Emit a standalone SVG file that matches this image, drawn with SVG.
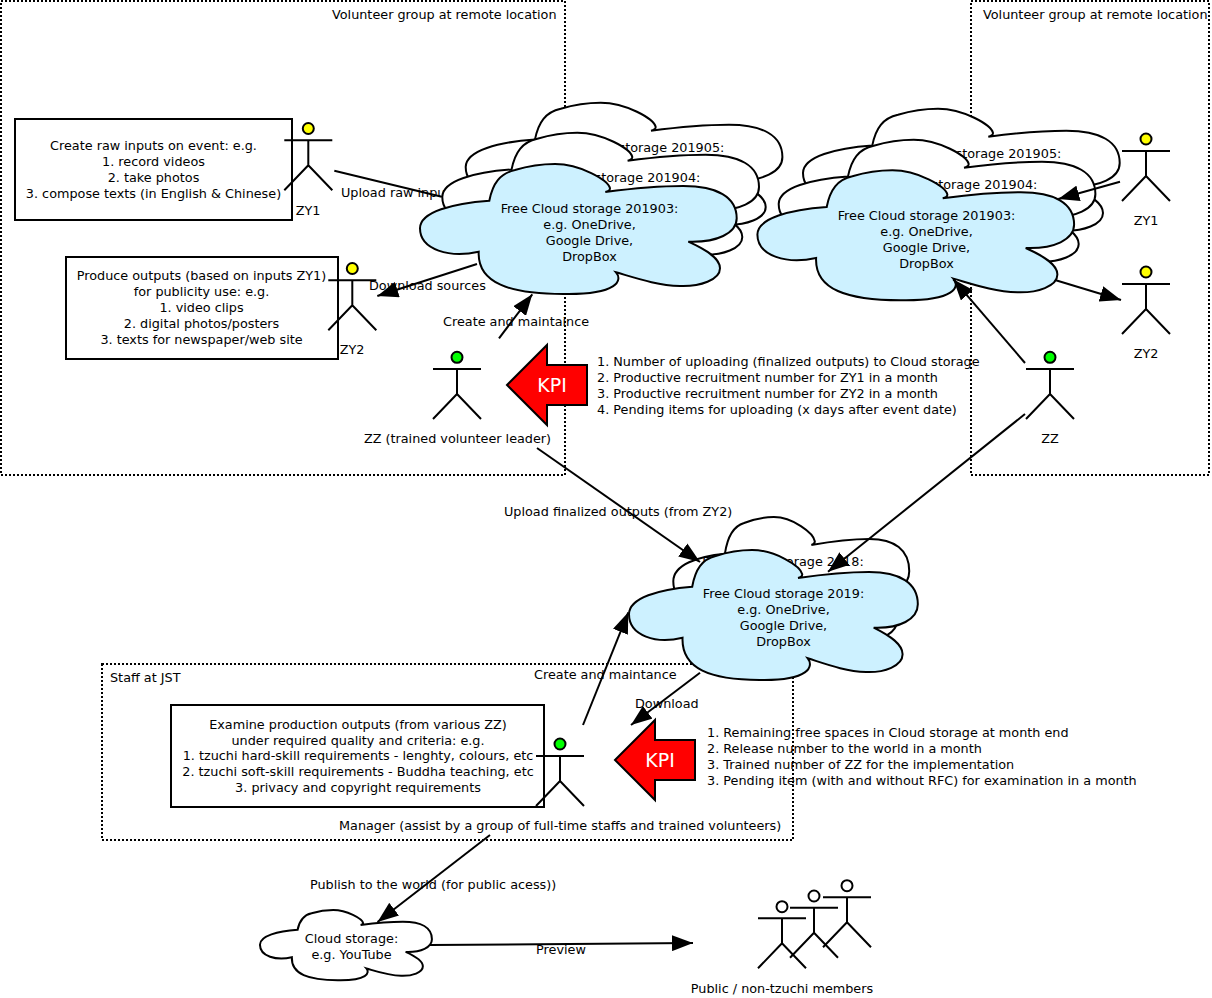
<svg xmlns="http://www.w3.org/2000/svg" width="1212" height="998" viewBox="0 0 1212 998">
<style>
text{font-family:"DejaVu Sans",sans-serif;font-size:12.8px;fill:#000}
.c{text-anchor:middle}
.kt{font-size:19px;fill:#fff;text-anchor:middle}
.frame{fill:none;stroke:#000;stroke-width:2;stroke-dasharray:2 2}
.box{fill:#fff;stroke:#000;stroke-width:2}
.cl{stroke:#000;stroke-width:2}
.w{fill:#fff}.b{fill:#cdf1ff}
.a{fill:none;stroke:#000;stroke-width:2}
.y{fill:#ff0;stroke:#000;stroke-width:2}.g{fill:#0f0;stroke:#000;stroke-width:2}.wh{fill:#fff;stroke:#000;stroke-width:2}
.k{fill:#f00;stroke:#000;stroke-width:2}
.l{fill:none;stroke:#000;stroke-width:2}
</style>
<defs>
<path id="cloud" vector-effect="non-scaling-stroke" d="M89.3 110.7C92.7 93.3 100 83.3 115 80C128.3 76 141.7 74 155 74C180 74 208.3 90 210 98.3Q210 101 205.3 102C233.3 98.3 260 96 283.3 96C316.7 96 336.7 106.7 336.7 128.3C336.7 143.3 316.7 152.7 288.3 151.7C306.7 160 320 168.3 320 178.3C320 190 300 196.7 280 196C256.7 195.3 236.7 188.3 216 182.3C222.7 190 218.3 205 163.3 204C110 204 77.3 193.3 78.7 161.7C50 168.3 20 160 20 138.3C20 121.7 53.3 113.3 89.3 110.7Z"/>
<marker id="arr" markerUnits="userSpaceOnUse" markerWidth="22" markerHeight="16" refX="21" refY="8" orient="auto"><path d="M0 0L21 8L0 16Z" fill="#000"/></marker>
<g id="act"><path class="a" d="M0 11V36M-24 11H24M-24 61L0 36L24 61"/></g>
</defs>
<rect width="1212" height="998" fill="#fff"/>
<g id="frames">
<rect class="frame" x="1" y="1" width="564" height="474"/>
<rect class="frame" x="971" y="1" width="238" height="474"/>
<rect class="frame" x="102" y="664" width="691" height="176"/>
</g>
<g id="labels">
<text x="332" y="19">Volunteer group at remote location</text>
<text x="983" y="19">Volunteer group at remote location</text>
<text x="110" y="682">Staff at JST</text>
<text x="341" y="197">Upload raw inputs</text>
</g>
<g id="cloud-201905-a"><use href="#cloud" class="cl w" transform="translate(445.7,28.7)"/><text class="c" x="635.5" y="152">Free Cloud storage 201905:</text></g>
<g id="cloud-201904-a"><use href="#cloud" class="cl w" transform="translate(422.3,58.7)"/><text class="c" x="611.5" y="182">Free Cloud storage 201904:</text></g>
<g id="cloud-201903-a"><use href="#cloud" class="cl b" transform="translate(400,90)"/><text class="c" x="589.5" y="213">Free Cloud storage 201903:</text><text class="c" x="589.5" y="229">e.g. OneDrive,</text><text class="c" x="589.5" y="245">Google Drive,</text><text class="c" x="589.5" y="261">DropBox</text></g>
<g id="cloud-201905-b"><use href="#cloud" class="cl w" transform="translate(783,34.7)"/><text class="c" x="972.5" y="158">Free Cloud storage 201905:</text></g>
<g id="cloud-201904-b"><use href="#cloud" class="cl w" transform="translate(758.7,65.7)"/><text class="c" x="948.5" y="189">Free Cloud storage 201904:</text></g>
<g id="cloud-201903-b"><use href="#cloud" class="cl b" transform="translate(737.4,96.3)"/><text class="c" x="926.5" y="220">Free Cloud storage 201903:</text><text class="c" x="926.5" y="236">e.g. OneDrive,</text><text class="c" x="926.5" y="252">Google Drive,</text><text class="c" x="926.5" y="268">DropBox</text></g>
<g id="cloud-2018"><use href="#cloud" class="cl w" transform="translate(658.4,443) scale(.745,1)"/><text class="c" x="783" y="566">Free Cloud storage 2018:</text></g>
<g id="cloud-2019"><use href="#cloud" class="cl b" transform="translate(610.76,476) scale(.912,1)"/><text class="c" x="783.5" y="598">Free Cloud storage 2019:</text><text class="c" x="783.5" y="614">e.g. OneDrive,</text><text class="c" x="783.5" y="630">Google Drive,</text><text class="c" x="783.5" y="646">DropBox</text></g>
<g id="cloud-youtube"><use href="#cloud" class="cl w" transform="translate(249.1,870) scale(.543,.54)"/><text class="c" x="351.5" y="943">Cloud storage:</text><text class="c" x="351.5" y="959">e.g. YouTube</text></g>
<g id="box-raw"><rect class="box" x="15" y="119" width="277" height="101"/><text class="c" x="153.5" y="150">Create raw inputs on event: e.g.</text><text class="c" x="153.5" y="166">1. record videos</text><text class="c" x="153.5" y="182">2. take photos</text><text class="c" x="153.5" y="198">3. compose texts (in English &amp; Chinese)</text></g>
<g id="box-produce"><rect class="box" x="66" y="257" width="272" height="102"/><text class="c" x="201.5" y="280">Produce outputs (based on inputs ZY1)</text><text class="c" x="201.5" y="295.5">for publicity use: e.g.</text><text class="c" x="201.5" y="311.5">1. video clips</text><text class="c" x="201.5" y="327.5">2. digital photos/posters</text><text class="c" x="201.5" y="343.5">3. texts for newspaper/web site</text></g>
<g id="box-examine"><rect class="box" x="171" y="705" width="373" height="102"/><text class="c" x="358" y="728.5">Examine production outputs (from various ZZ)</text><text class="c" x="358" y="744.5">under required quality and criteria: e.g.</text><text class="c" x="358" y="760">1. tzuchi hard-skill requirements - lenghty, colours, etc</text><text class="c" x="358" y="775.5">2. tzuchi soft-skill requirements - Buddha teaching, etc</text><text class="c" x="358" y="791.5">3. privacy and copyright requirements</text></g>
<g id="zy1-a"><circle class="y" cx="308.3" cy="128.5" r="5.5"/><use href="#act" x="308.3" y="129.3"/><text class="c" x="308" y="215">ZY1</text></g>
<g id="zy2-a"><circle class="y" cx="352.3" cy="268.5" r="5.5"/><use href="#act" x="352.3" y="269.3"/><text class="c" x="352" y="354">ZY2</text></g>
<g id="zz-a"><circle class="g" cx="457" cy="357.3" r="5.5"/><use href="#act" x="457" y="358"/><text class="c" x="457.5" y="443">ZZ (trained volunteer leader)</text></g>
<g id="zy1-b"><circle class="y" cx="1146" cy="139" r="5.5"/><use href="#act" x="1146" y="140"/><text class="c" x="1146" y="225">ZY1</text></g>
<g id="zy2-b"><circle class="y" cx="1146" cy="272" r="5.5"/><use href="#act" x="1146" y="273"/><text class="c" x="1146" y="358">ZY2</text></g>
<g id="zz-b"><circle class="g" cx="1050" cy="357.3" r="5.5"/><use href="#act" x="1050" y="358"/><text class="c" x="1050" y="443">ZZ</text></g>
<g id="manager"><circle class="g" cx="560" cy="744" r="5.5"/><use href="#act" x="560" y="745"/><text x="339" y="830">Manager (assist by a group of full-time staffs and trained volunteers)</text></g>
<g id="public"><circle class="wh" cx="847" cy="885.7" r="5.5"/><use href="#act" x="847" y="886.3"/><circle class="wh" cx="814" cy="896" r="5.5"/><use href="#act" x="814" y="896.8"/><circle class="wh" cx="782" cy="906.7" r="5.5"/><use href="#act" x="782" y="907.3"/><text class="c" x="782" y="993">Public / non-tzuchi members</text></g>
<g id="kpi-a"><path class="k" d="M507 385L547 345V365H587V405H547V425Z"/><text class="kt" x="552" y="392">KPI</text></g>
<g id="kpi-b"><path class="k" d="M615 760L655 720V740H695V780H655V800Z"/><text class="kt" x="660" y="767">KPI</text></g>
<g id="connectors">
<line class="l" x1="334.3" y1="170.7" x2="441.7" y2="196.7"/>
<line class="l" x1="477" y1="264" x2="377.3" y2="296" marker-end="url(#arr)"/>
<line class="l" x1="499" y1="338.3" x2="532.3" y2="294.3" marker-end="url(#arr)"/>
<line class="l" x1="537" y1="448" x2="700" y2="562" marker-end="url(#arr)"/>
<line class="l" x1="1025" y1="414" x2="828" y2="571.7" marker-end="url(#arr)"/>
<line class="l" x1="1025" y1="363" x2="953.3" y2="279.3" marker-end="url(#arr)"/>
<line class="l" x1="1120" y1="181.7" x2="1058.3" y2="199" marker-end="url(#arr)"/>
<line class="l" x1="1055" y1="280" x2="1121" y2="300" marker-end="url(#arr)"/>
<line class="l" x1="583" y1="725" x2="628.3" y2="612.3" marker-end="url(#arr)"/>
<line class="l" x1="700" y1="672.7" x2="631" y2="725" marker-end="url(#arr)"/>
<line class="l" x1="490" y1="835" x2="377.5" y2="922" marker-end="url(#arr)"/>
<line class="l" x1="430" y1="945" x2="693" y2="943" marker-end="url(#arr)"/>
</g>
<g id="connector-labels">
<text x="369" y="290">Download sources</text>
<text x="443" y="326">Create and maintaince</text>
<text x="504" y="516">Upload finalized outputs (from ZY2)</text>
<text x="534" y="679">Create and maintance</text>
<text x="635" y="708">Download</text>
<text x="310" y="889">Publish to the world (for public acess))</text>
<text class="c" x="561" y="954">Preview</text>
<text x="597" y="366">1. Number of uploading (finalized outputs) to Cloud storage</text>
<text x="597" y="382">2. Productive recruitment number for ZY1 in a month</text>
<text x="597" y="398">3. Productive recruitment number for ZY2 in a month</text>
<text x="597" y="414">4. Pending items for uploading (x days after event date)</text>
<text x="707" y="737">1. Remaining free spaces in Cloud storage at month end</text>
<text x="707" y="753">2. Release number to the world in a month</text>
<text x="707" y="769">3. Trained number of ZZ for the implementation</text>
<text x="707" y="785">3. Pending item (with and without RFC) for examination in a month</text>
</g>
</svg>
